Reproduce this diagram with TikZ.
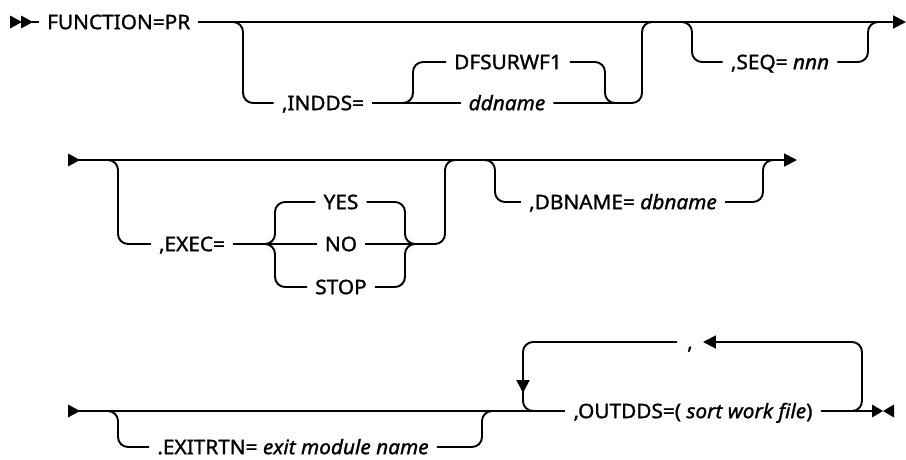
\documentclass[tikz,border=0pt]{standalone}
\usepackage{fontspec}
\setmainfont[FakeStretch=1.04,FakeBold=1.3]{Noto Sans}
\usetikzlibrary{arrows.meta}
\tikzset{
  rail/.style={line width=1.9pt, rounded corners=10pt},
  kw/.style={inner xsep=8pt, inner ysep=0pt, text height=14.3pt, text depth=0pt,
    font=\fontsize{20}{23}\selectfont},
  tip/.style={-{Triangle[length=13pt,width=13pt]}}
}
\begin{document}
\begin{tikzpicture}[x=1pt,y=-1pt]
\useasboundingbox (0,0) rectangle (906,459);
\fill (10,15.5) -- (22,22) -- (10,28.5) -- cycle;
\fill (21,15.5) -- (33,22) -- (21,28.5) -- cycle;
\node[kw, anchor=west] (fn) at (39,22) {FUNCTION=PR};
\draw[rail] (32,22) -- (fn.west);
\draw[rail, tip] (fn.east) -- (906,22);
\node[kw] (indds) at (323,103) {,INDDS=};
\node[kw] (dfs) at (508,62) {DFSURWF1};
\node[kw] (ddn) at (507,103) {\textit{ddname}};
\draw[rail] (225,22) -| (243,103) -- (indds.west);
\draw[rail] (indds.east) -- (ddn.west);
\draw[rail] (400,103) -| (413,62) -- (dfs.west);
\draw[rail] (dfs.east) -| (605,103) -- (615,103);
\draw[rail] (ddn.east) -| (642,22) -- (655,22);
\node[kw] (seq) at (780,62) {,SEQ= \textit{nnn}};
\draw[rail] (680,22) -| (692,62) -- (seq.west);
\draw[rail] (seq.east) -| (868,22) -- (880,22);
\fill (68,153.5) -- (80,160) -- (68,166.5) -- cycle;
\draw[rail, tip] (79,160) -- (797,160);
\node[kw] (exec) at (192,244) {,EXEC=};
\foreach \n/\t/\y in {yes/YES/202,no/NO/244,stop/STOP/287}
  \node[kw] (\n) at (341,\y) {\t};
\draw[rail] (105,160) -| (118,244) -- (exec.west);
\draw[rail] (exec.east) -- (no.west);
\draw[rail] (262,244) -| (275,202) -- (yes.west);
\draw[rail] (262,244) -| (275,287) -- (stop.west);
\draw[rail] (yes.east) -| (405,244) -- (418,244);
\draw[rail] (stop.east) -| (405,244) -- (418,244);
\draw[rail] (no.east) -| (445,160) -- (458,160);
\node[kw] (dbn) at (623,202) {,DBNAME= \textit{dbname}};
\draw[rail] (482,160) -| (495,202) -- (dbn.west);
\draw[rail] (dbn.east) -| (763,160) -- (776,160);
\fill (68,404.5) -- (80,411) -- (68,417.5) -- cycle;
\node[kw] (outdds) at (693,411) {,OUTDDS=( \textit{sort work file})};
\draw[rail] (79,411) -- (outdds.west);
\draw[rail] (outdds.east) -- (873,411);
\fill (872,404.5) -- (883,411) -- (872,417.5) -- cycle;
\fill (894,404.5) -- (883,411) -- (894,417.5) -- cycle;
\node[kw] (exit) at (293,447) {.EXITRTN= \textit{exit module name}};
\draw[rail] (105,411) -| (118,447) -- (exit.west);
\draw[rail] (exit.east) -| (482,411) -- (495,411);
\node[kw, inner xsep=10pt] (sep) at (690,342) {,};
\draw[rail, tip] (850,411) -| (862,342) -- (sep.east);
\draw[rail, tip] (sep.west) -| (523,393);
\draw[rail] (523,385) |- (538,411);
\end{tikzpicture}
\end{document}
